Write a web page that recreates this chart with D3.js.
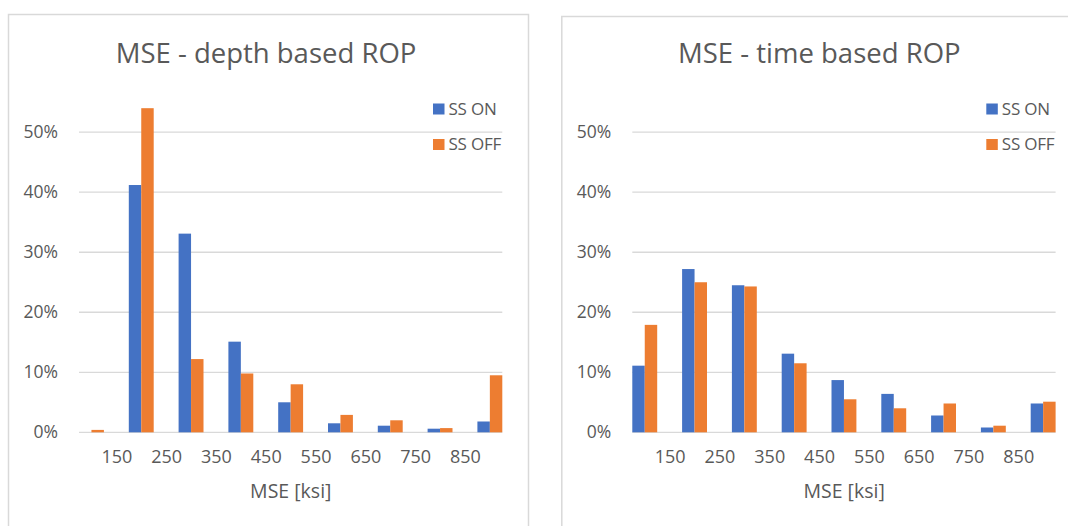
<!DOCTYPE html>
<html>
<head>
<meta charset="utf-8">
<script src="https://d3js.org/d3.v7.min.js"></script>
<style>
  body { margin: 0; background: #fff; }
  svg { display: block; font-family: "Open Sans", sans-serif; }
</style>
</head>
<body>
<svg id="chart" width="1068" height="526"></svg>
<script>
// bins of MSE, one bar group per bin
var bins = ["<150", "150-250", "250-350", "350-450", "450-550", "550-650", "650-750", "750-850", ">850"];
// labels sit on the bin edges
var tickLabels = ["150", "250", "350", "450", "550", "650", "750", "850"];
var yTicks = [0, 0.1, 0.2, 0.3, 0.4, 0.5];
var seriesNames = ["SS ON", "SS OFF"];
var seriesColors = ["#4472C4", "#ED7D31"];

var depthOn  = [0.000, 0.412, 0.331, 0.151, 0.050, 0.015, 0.011, 0.006, 0.018];
var depthOff = [0.004, 0.540, 0.122, 0.098, 0.080, 0.029, 0.020, 0.007, 0.095];
var timeOn   = [0.111, 0.272, 0.245, 0.131, 0.087, 0.064, 0.028, 0.008, 0.048];
var timeOff  = [0.179, 0.250, 0.243, 0.115, 0.055, 0.040, 0.048, 0.011, 0.051];

var svg = d3.select("#chart");
var textCol = "#595959", gridCol = "#d9d9d9";

var x = d3.scaleBand()
  .domain(bins)
  .range([79, 502.3])
  .paddingInner(0.5)
  .paddingOuter(0);

var xs = d3.scaleBand()
  .domain(seriesNames)
  .range([0, x.bandwidth()]);

var y = d3.scaleLinear()
  .domain([0, 0.5])
  .range([432.3, 132.2]);

var gap = x.step() - x.bandwidth();
var xTick = d3.scalePoint()
  .domain(tickLabels)
  .range([x(bins[1]) - gap / 2, x(bins[bins.length - 1]) - gap / 2]);

function drawPanel(dx, frameTop, title, on, off) {
  var g = svg.append("g").attr("transform", "translate(" + dx + ",0)");

  g.append("rect")
    .attr("x", 8.5).attr("y", frameTop)
    .attr("width", 520).attr("height", 600)
    .attr("fill", "#fff").attr("stroke", gridCol).attr("stroke-width", 1.5);

  g.append("text")
    .attr("x", 266).attr("y", 63)
    .attr("text-anchor", "middle")
    .attr("fill", textCol)
    .style("font-size", "27.5px")
    .text(title);

  // gridlines
  g.append("g").selectAll("line")
    .data(yTicks)
    .enter().append("line")
    .attr("x1", x.range()[0]).attr("x2", x.range()[1])
    .attr("y1", function(d) { return y(d); })
    .attr("y2", function(d) { return y(d); })
    .attr("stroke", gridCol).attr("stroke-width", 1.3);

  var yAxis = g.append("g")
    .attr("transform", "translate(" + x.range()[0] + ",0)")
    .call(d3.axisLeft(y).tickValues(yTicks).tickFormat(d3.format(".0%")).tickSize(0).tickPadding(21));
  yAxis.select(".domain").remove();
  yAxis.selectAll("text").attr("fill", textCol).style("font-size", "17.5px").style("font-family", "Open Sans");

  var xAxis = g.append("g")
    .attr("transform", "translate(0," + y(0) + ")")
    .call(d3.axisBottom(xTick).tickSize(0).tickPadding(18));
  xAxis.select(".domain").remove();
  xAxis.selectAll("text").attr("fill", textCol).style("font-size", "18px").style("font-family", "Open Sans");

  var rows = bins.map(function(b, i) { return { bin: b, vals: [on[i], off[i]] }; });

  g.append("g").selectAll("g")
    .data(rows)
    .enter().append("g")
    .attr("transform", function(d) { return "translate(" + x(d.bin) + ",0)"; })
    .selectAll("rect")
    .data(function(d) { return d.vals.map(function(v, k) { return { s: seriesNames[k], v: v, c: seriesColors[k] }; }); })
    .enter().append("rect")
    .attr("x", function(d) { return xs(d.s); })
    .attr("width", xs.bandwidth())
    .attr("y", function(d) { return y(d.v); })
    .attr("height", function(d) { return y(0) - y(d.v); })
    .attr("fill", function(d) { return d.c; });

  g.append("text")
    .attr("x", 290.8).attr("y", 498)
    .attr("text-anchor", "middle")
    .attr("fill", textCol)
    .style("font-size", "19.5px")
    .text("MSE [ksi]");

  // legend
  var leg = g.append("g").selectAll("g")
    .data(seriesNames)
    .enter().append("g")
    .attr("transform", function(d, i) { return "translate(433," + (103.5 + i * 35.5) + ")"; });
  leg.append("rect")
    .attr("width", 11.5).attr("height", 11)
    .attr("fill", function(d, i) { return seriesColors[i]; });
  leg.append("text")
    .attr("x", 15.5).attr("y", 5.5).attr("dy", "0.35em")
    .attr("fill", textCol)
    .style("font-size", "17px")
    .style("letter-spacing", "-0.2px")
    .text(function(d) { return d; });
}

drawPanel(0, 14.5, "MSE - depth based ROP", depthOn, depthOff);
drawPanel(553.3, 16.5, "MSE - time based ROP", timeOn, timeOff);
</script>
</body>
</html>
